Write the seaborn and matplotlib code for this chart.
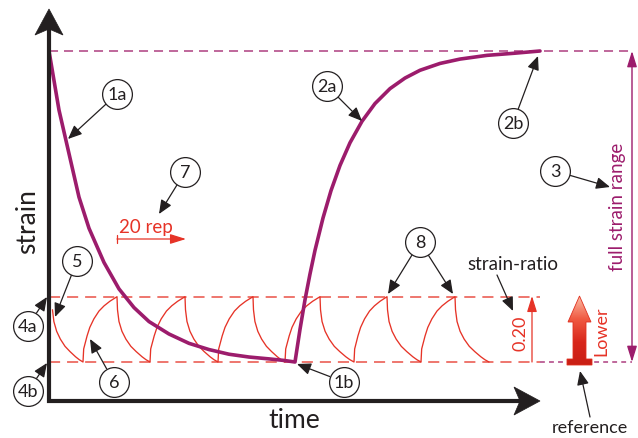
import numpy as np
import pandas as pd
import seaborn as sns
import matplotlib.pyplot as plt
from matplotlib.patches import Polygon

# --- style ---
sns.set_theme(style='white')
plt.rcParams['font.family'] = ['Lato', 'DejaVu Sans']
plt.rcParams['lines.scale_dashes'] = False

INK = '#231f20'
PURPLE = '#9c1c6c'
PURPLE_LIGHT = '#ae3f80'
RED = '#e63327'

# --- data (time in arbitrary units, strain normalised to full range) ---
# 1a: relaxation of the full strain
decay_time = [0, 10, 20, 30, 40, 55, 70, 85, 100, 120, 140, 160, 180, 200, 220, 235, 246]
decay_strain = [1.0, 0.81, 0.67, 0.53, 0.43, 0.32, 0.235, 0.175, 0.13, 0.09, 0.06,
                0.04, 0.025, 0.016, 0.01, 0.005, 0.0]

# 2a: recovery back to the full strain
recovery_time = [246, 251, 256, 261, 266, 274, 282, 291, 301, 313, 326, 341, 356,
                 371, 391, 411, 438, 466, 491]
recovery_strain = [0.0, 0.105, 0.20, 0.283, 0.359, 0.463, 0.551, 0.632, 0.705, 0.774,
                   0.831, 0.879, 0.913, 0.938, 0.960, 0.974, 0.986, 0.993, 1.0]

# cyclic loading at the strain ratio
strain_ratio = 0.21
peak_times = [3, 68, 136, 204, 271, 338, 406]
trough_times = [34, 101, 169, 236, 305, 372, 440]

# shape of one half cycle (fraction of the half cycle -> fraction of the step)
fall_u = [0, 0.015, 0.06, 0.15, 0.27, 0.42, 0.58, 0.76, 0.88, 1.0]
fall_left = [1, 0.80, 0.62, 0.47, 0.35, 0.24, 0.16, 0.08, 0.035, 0.0]
rise_u = [0, 0.02, 0.06, 0.12, 0.2, 0.32, 0.47, 0.62, 0.79, 1.0]
rise_done = [0, 0.2, 0.28, 0.40, 0.53, 0.66, 0.78, 0.86, 0.93, 1.0]

# build the cyclic path from the turning points
cyc_t, cyc_s = [], []
for i, (p, q) in enumerate(zip(peak_times, trough_times)):
    start = 1 if i == 0 else 0
    for u, f in zip(fall_u[start:], fall_left[start:]):
        cyc_t.append(p + u * (q - p))
        cyc_s.append(strain_ratio * f)
    if i + 1 < len(peak_times):
        nxt = peak_times[i + 1]
        for u, f in zip(rise_u[1:], rise_done[1:]):
            cyc_t.append(q + u * (nxt - q))
            cyc_s.append(strain_ratio * f)
cycles = pd.DataFrame({'time': cyc_t, 'strain': cyc_s})
relax = pd.DataFrame({'time': decay_time + recovery_time,
                      'strain': decay_strain + recovery_strain})


# --- layout helpers (pixel position -> data) ---
def px(x):
    return x - 49


def py(y):
    return (363 - y) / 311


fig = plt.figure(figsize=(6.38, 4.39), dpi=100)
ax = fig.add_axes([0, 0, 1, 1])
ax.set_xlim(px(0), px(638))
ax.set_ylim(py(439), py(0))
ax.axis('off')

# reference levels
ax.hlines(1.0, px(49), px(632), color=PURPLE_LIGHT, lw=1.1, linestyle=(0, (6.5, 4.3)), zorder=1)
ax.hlines([0.0, strain_ratio], px(49), px(540), color=RED, lw=1.1,
          linestyle=(0, (8, 5)), alpha=0.85, zorder=1)
ax.hlines(0.0, px(540), px(632), color=PURPLE_LIGHT, lw=1.1, linestyle=(0, (3.5, 3)), zorder=1)

# curves
sns.lineplot(data=cycles, x='time', y='strain', ax=ax, color=RED, lw=0.95,
             sort=False, estimator=None, zorder=3)
sns.lineplot(data=relax, x='time', y='strain', ax=ax, color=PURPLE, lw=2.6,
             sort=False, estimator=None, zorder=4)
ax.set_xlabel('')
ax.set_ylabel('')

# axes drawn as arrows
ax.plot([px(49), px(49), px(522)], [py(30), py(402), py(402)], color=INK, lw=3,
        solid_joinstyle='miter', solid_capstyle='projecting', zorder=5)
for verts in ([(49, 10), (63, 36), (49, 30), (35, 36)],
              [(540, 402), (514, 388), (520, 402), (514, 416)]):
    ax.add_patch(Polygon([(px(a), py(b)) for a, b in verts], closed=True,
                         fc=INK, ec=INK, lw=0.5, zorder=6))

ax.text(px(294), py(421), 'time', fontsize=19, color=INK, ha='center', va='center')
ax.text(px(28), py(222), 'strain', fontsize=19, color=INK, ha='center', va='center',
        rotation=90)

# numbered call-outs
callouts = [('1a', (117, 95), [(68, 140)]),
            ('7', (185, 173), [(159, 215)]),
            ('2a', (327, 87), [(362, 122)]),
            ('2b', (513, 124), [(538, 57)]),
            ('3', (555, 172), [(610, 188)]),
            ('5', (77, 262), [(55, 318)]),
            ('4a', (28, 327), [(47, 298)]),
            ('4b', (28, 392), [(47, 364)]),
            ('6', (114, 383), [(90, 340)]),
            ('1b', (344, 383), [(297, 365)]),
            ('8', (420, 243), [(388, 295), (453, 295)])]
for label, (cx, cy), tips in callouts:
    for tx, ty in tips:
        ax.annotate('', xy=(px(tx), py(ty)), xytext=(px(cx), py(cy)),
                    arrowprops=dict(arrowstyle='-|>,head_length=0.7,head_width=0.3',
                                    color=INK, lw=0.9, shrinkA=11, shrinkB=0),
                    zorder=7)
    ax.scatter([px(cx)], [py(cy)], s=460, fc='white', ec=INK, lw=0.9, zorder=8)
    ax.text(px(cx), py(cy), label, fontsize=13, color=INK, ha='center', va='center',
            zorder=9)

# 20 rep
ax.text(px(146), py(228), '20 rep', fontsize=13.5, color=RED, ha='center', va='center')
ax.annotate('', xy=(px(186), py(240)), xytext=(px(117), py(240)),
            arrowprops=dict(arrowstyle='-|>,head_length=0.8,head_width=0.25',
                            color=RED, lw=0.9, shrinkA=0, shrinkB=0))
ax.plot([px(117), px(117)], [py(236), py(244)], color=RED, lw=0.9)

# strain ratio marker
ax.annotate('', xy=(px(532), py(297)), xytext=(px(532), py(363)),
            arrowprops=dict(arrowstyle='-|>,head_length=0.8,head_width=0.25',
                            color=RED, lw=0.9, shrinkA=0, shrinkB=0))
ax.text(px(521), py(333), '0.20', fontsize=13, color=RED, ha='center', va='center',
        rotation=90)
ax.text(px(513), py(264), 'strain-ratio', fontsize=13.5, color=INK, ha='center', va='center')
ax.annotate('', xy=(px(513), py(312)), xytext=(px(497), py(276)),
            arrowprops=dict(arrowstyle='-|>,head_length=0.7,head_width=0.3',
                            color=INK, lw=0.9, shrinkA=0, shrinkB=0))

# full strain range
ax.annotate('', xy=(px(632), py(52)), xytext=(px(632), py(363)),
            arrowprops=dict(arrowstyle='<|-|>,head_length=0.8,head_width=0.25',
                            color=PURPLE, lw=1.0, shrinkA=0, shrinkB=0))
ax.text(px(617), py(207), 'full strain range', fontsize=13.5, color=PURPLE,
        ha='center', va='center', rotation=90)

# lower reference arrow with gradient fill
arrow_px = [(579.5, 297), (591, 323), (586, 323), (586, 360), (592, 360), (592, 366),
            (567, 366), (567, 360), (573, 360), (573, 323), (568, 323)]
arrow = Polygon([(px(a), py(b)) for a, b in arrow_px], closed=True, fc='none',
                ec='#e0301f', lw=0.6, zorder=6)
ax.add_patch(arrow)
grad = np.linspace(0, 1, 100).reshape(-1, 1)
img = ax.imshow(grad, cmap=sns.blend_palette(['#fcc0a8', '#f05a42', '#d8261a', '#c81e14'],
                                             as_cmap=True),
                extent=(px(566), px(593), py(367), py(296)), origin='upper',
                aspect='auto', zorder=5)
img.set_clip_path(arrow)
ax.set_xlim(px(0), px(638))
ax.set_ylim(py(439), py(0))

ax.text(px(601), py(331), 'Lower', fontsize=13, color=RED, ha='center', va='center',
        rotation=90)
ax.text(px(590), py(428), 'reference', fontsize=13, color=INK, ha='center', va='center')
ax.annotate('', xy=(px(580), py(372)), xytext=(px(590), py(418)),
            arrowprops=dict(arrowstyle='-|>,head_length=0.7,head_width=0.3',
                            color=INK, lw=0.9, shrinkA=0, shrinkB=0))

fig.savefig('out.png', dpi=100)
